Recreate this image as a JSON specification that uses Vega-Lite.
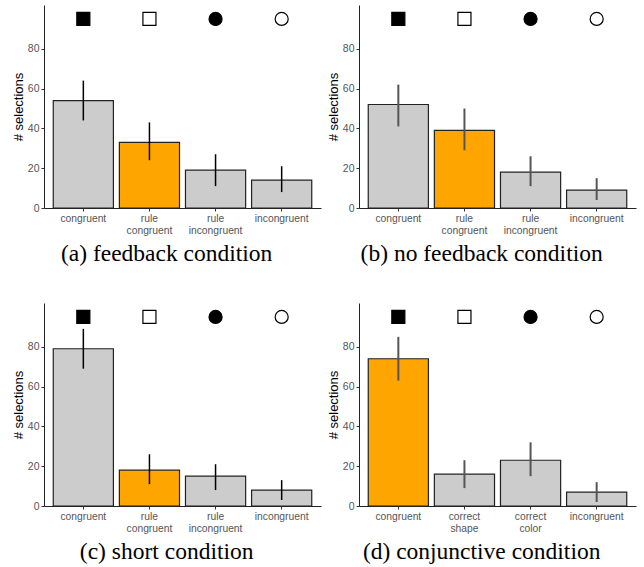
{
  "$schema": "https://vega.github.io/schema/vega-lite/v6.json",
  "background": "white",
  "padding": {"top": 5, "left": 12, "right": 2, "bottom": 2},
  "datasets": {
    "rows": [
      {"panel": "a", "cat": "congruent", "sel": 54, "lo": 44, "hi": 64, "target": "no", "marker": "filled square"},
      {"panel": "a", "cat": "rule congruent", "sel": 33, "lo": 24, "hi": 43, "target": "yes", "marker": "open square"},
      {"panel": "a", "cat": "rule incongruent", "sel": 19, "lo": 11, "hi": 27, "target": "no", "marker": "filled circle"},
      {"panel": "a", "cat": "incongruent", "sel": 14, "lo": 8, "hi": 21, "target": "no", "marker": "open circle"},
      {"panel": "b", "cat": "congruent", "sel": 52, "lo": 41, "hi": 62, "target": "no", "marker": "filled square"},
      {"panel": "b", "cat": "rule congruent", "sel": 39, "lo": 29, "hi": 50, "target": "yes", "marker": "open square"},
      {"panel": "b", "cat": "rule incongruent", "sel": 18, "lo": 11, "hi": 26, "target": "no", "marker": "filled circle"},
      {"panel": "b", "cat": "incongruent", "sel": 9, "lo": 4, "hi": 15, "target": "no", "marker": "open circle"},
      {"panel": "c", "cat": "congruent", "sel": 79, "lo": 69, "hi": 89, "target": "no", "marker": "filled square"},
      {"panel": "c", "cat": "rule congruent", "sel": 18, "lo": 11, "hi": 26, "target": "yes", "marker": "open square"},
      {"panel": "c", "cat": "rule incongruent", "sel": 15, "lo": 8, "hi": 21, "target": "no", "marker": "filled circle"},
      {"panel": "c", "cat": "incongruent", "sel": 8, "lo": 3, "hi": 13, "target": "no", "marker": "open circle"},
      {"panel": "d", "cat": "congruent", "sel": 74, "lo": 63, "hi": 85, "target": "yes", "marker": "filled square"},
      {"panel": "d", "cat": "correct shape", "sel": 16, "lo": 9, "hi": 23, "target": "no", "marker": "open square"},
      {"panel": "d", "cat": "correct color", "sel": 23, "lo": 15, "hi": 32, "target": "no", "marker": "filled circle"},
      {"panel": "d", "cat": "incongruent", "sel": 7, "lo": 2, "hi": 12, "target": "no", "marker": "open circle"}
    ]
  },
  "data": {"name": "rows"},
  "columns": 2,
  "spacing": {"column": 6, "row": 37},
  "config": {
    "view": {"stroke": null},
    "axis": {
      "grid": false,
      "domainColor": "#222",
      "tickColor": "#333",
      "tickSize": 3,
      "labelColor": "#555",
      "labelFont": "Liberation Sans",
      "labelFontSize": 10.5,
      "titleFont": "Liberation Sans",
      "titleFontSize": 13,
      "titleFontWeight": "normal",
      "titleColor": "black"
    },
    "title": {"font": "Liberation Serif", "fontSize": 23.5, "fontWeight": "normal", "color": "black", "orient": "bottom", "anchor": "middle", "frame": "bounds", "offset": 6}
  },
  "concat": [
    {
      "title": "(a) feedback condition",
      "width": 277, "height": 203,
      "transform": [{"filter": "datum.panel == 'a'"}],
      "encoding": {
        "x": {"field": "cat", "type": "nominal", "sort": null, "title": null,
              "scale": {"paddingInner": 0.09, "paddingOuter": 0.14},
              "axis": {"labelAngle": 0, "labelExpr": "split(datum.label, ' ')", "labelLineHeight": 12.5, "labelPadding": 2, "labelFontSize": 10.3}}
      },
      "layer": [
        {"mark": {"type": "bar", "stroke": "#222", "strokeWidth": 1.2},
         "encoding": {"y": {"field": "sel", "type": "quantitative", "title": "# selections",
                            "scale": {"domain": [0, 102], "nice": false},
                            "axis": {"values": [0, 20, 40, 60, 80], "titlePadding": 2}},
                      "color": {"field": "target", "type": "nominal", "scale": {"domain": ["no", "yes"], "range": ["#cccccc", "#ffa500"]}, "legend": null}}},
        {"mark": {"type": "rule", "color": "black", "strokeWidth": 1.5},
         "encoding": {"y": {"field": "lo", "type": "quantitative"}, "y2": {"field": "hi"}}},
        {"mark": {"type": "point", "filled": true, "stroke": "black", "strokeWidth": 1.2, "opacity": 1, "size": 170},
         "encoding": {"y": {"datum": 95},
                      "shape": {"field": "marker", "type": "nominal", "scale": {"domain": ["filled square", "open square", "filled circle", "open circle"], "range": ["square", "square", "circle", "circle"]}, "legend": null},
                      "fill": {"field": "marker", "type": "nominal", "scale": {"domain": ["filled square", "open square", "filled circle", "open circle"], "range": ["black", "white", "black", "white"]}, "legend": null}}}
      ]
    },
    {
      "title": "(b) no feedback condition",
      "width": 277, "height": 203,
      "transform": [{"filter": "datum.panel == 'b'"}],
      "encoding": {
        "x": {"field": "cat", "type": "nominal", "sort": null, "title": null,
              "scale": {"paddingInner": 0.09, "paddingOuter": 0.14},
              "axis": {"labelAngle": 0, "labelExpr": "split(datum.label, ' ')", "labelLineHeight": 12.5, "labelPadding": 2, "labelFontSize": 10.3}}
      },
      "layer": [
        {"mark": {"type": "bar", "stroke": "#222", "strokeWidth": 1.2},
         "encoding": {"y": {"field": "sel", "type": "quantitative", "title": "# selections",
                            "scale": {"domain": [0, 102], "nice": false},
                            "axis": {"values": [0, 20, 40, 60, 80], "titlePadding": 2}},
                      "color": {"field": "target", "type": "nominal", "scale": {"domain": ["no", "yes"], "range": ["#cccccc", "#ffa500"]}, "legend": null}}},
        {"mark": {"type": "rule", "color": "#555", "strokeWidth": 2},
         "encoding": {"y": {"field": "lo", "type": "quantitative"}, "y2": {"field": "hi"}}},
        {"mark": {"type": "point", "filled": true, "stroke": "black", "strokeWidth": 1.2, "opacity": 1, "size": 170},
         "encoding": {"y": {"datum": 95},
                      "shape": {"field": "marker", "type": "nominal", "scale": {"domain": ["filled square", "open square", "filled circle", "open circle"], "range": ["square", "square", "circle", "circle"]}, "legend": null},
                      "fill": {"field": "marker", "type": "nominal", "scale": {"domain": ["filled square", "open square", "filled circle", "open circle"], "range": ["black", "white", "black", "white"]}, "legend": null}}}
      ]
    },
    {
      "title": "(c) short condition",
      "width": 277, "height": 203,
      "transform": [{"filter": "datum.panel == 'c'"}],
      "encoding": {
        "x": {"field": "cat", "type": "nominal", "sort": null, "title": null,
              "scale": {"paddingInner": 0.09, "paddingOuter": 0.14},
              "axis": {"labelAngle": 0, "labelExpr": "split(datum.label, ' ')", "labelLineHeight": 12.5, "labelPadding": 2, "labelFontSize": 10.3}}
      },
      "layer": [
        {"mark": {"type": "bar", "stroke": "#222", "strokeWidth": 1.2},
         "encoding": {"y": {"field": "sel", "type": "quantitative", "title": "# selections",
                            "scale": {"domain": [0, 102], "nice": false},
                            "axis": {"values": [0, 20, 40, 60, 80], "titlePadding": 2}},
                      "color": {"field": "target", "type": "nominal", "scale": {"domain": ["no", "yes"], "range": ["#cccccc", "#ffa500"]}, "legend": null}}},
        {"mark": {"type": "rule", "color": "black", "strokeWidth": 1.5},
         "encoding": {"y": {"field": "lo", "type": "quantitative"}, "y2": {"field": "hi"}}},
        {"mark": {"type": "point", "filled": true, "stroke": "black", "strokeWidth": 1.2, "opacity": 1, "size": 170},
         "encoding": {"y": {"datum": 95},
                      "shape": {"field": "marker", "type": "nominal", "scale": {"domain": ["filled square", "open square", "filled circle", "open circle"], "range": ["square", "square", "circle", "circle"]}, "legend": null},
                      "fill": {"field": "marker", "type": "nominal", "scale": {"domain": ["filled square", "open square", "filled circle", "open circle"], "range": ["black", "white", "black", "white"]}, "legend": null}}}
      ]
    },
    {
      "title": "(d) conjunctive condition",
      "width": 277, "height": 203,
      "transform": [{"filter": "datum.panel == 'd'"}],
      "encoding": {
        "x": {"field": "cat", "type": "nominal", "sort": null, "title": null,
              "scale": {"paddingInner": 0.09, "paddingOuter": 0.14},
              "axis": {"labelAngle": 0, "labelExpr": "split(datum.label, ' ')", "labelLineHeight": 12.5, "labelPadding": 2, "labelFontSize": 10.3}}
      },
      "layer": [
        {"mark": {"type": "bar", "stroke": "#222", "strokeWidth": 1.2},
         "encoding": {"y": {"field": "sel", "type": "quantitative", "title": "# selections",
                            "scale": {"domain": [0, 102], "nice": false},
                            "axis": {"values": [0, 20, 40, 60, 80], "titlePadding": 2}},
                      "color": {"field": "target", "type": "nominal", "scale": {"domain": ["no", "yes"], "range": ["#cccccc", "#ffa500"]}, "legend": null}}},
        {"mark": {"type": "rule", "color": "#555", "strokeWidth": 2},
         "encoding": {"y": {"field": "lo", "type": "quantitative"}, "y2": {"field": "hi"}}},
        {"mark": {"type": "point", "filled": true, "stroke": "black", "strokeWidth": 1.2, "opacity": 1, "size": 170},
         "encoding": {"y": {"datum": 95},
                      "shape": {"field": "marker", "type": "nominal", "scale": {"domain": ["filled square", "open square", "filled circle", "open circle"], "range": ["square", "square", "circle", "circle"]}, "legend": null},
                      "fill": {"field": "marker", "type": "nominal", "scale": {"domain": ["filled square", "open square", "filled circle", "open circle"], "range": ["black", "white", "black", "white"]}, "legend": null}}}
      ]
    }
  ]
}
